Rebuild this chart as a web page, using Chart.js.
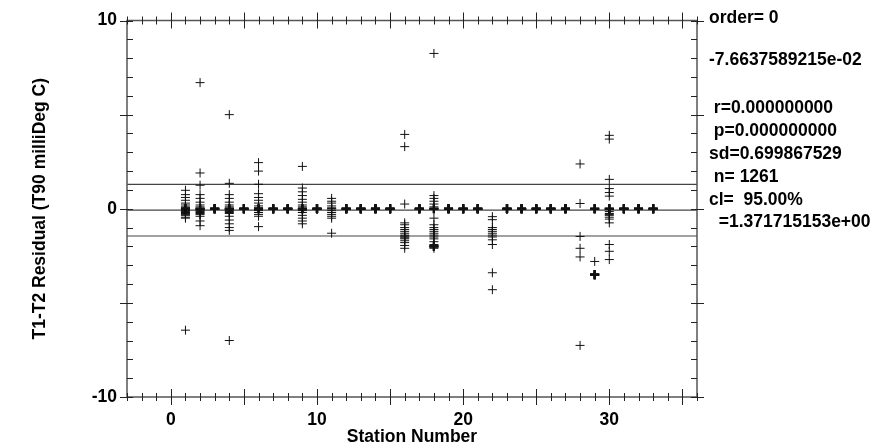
<!DOCTYPE html>
<html>
<head>
<meta charset="utf-8">
<script src="https://cdn.jsdelivr.net/npm/chart.js@4.4.0/dist/chart.umd.min.js"></script>
<style>
  html, body { margin: 0; padding: 0; background: #fff; }
  #wrap { width: 876px; height: 448px; }
</style>
</head>
<body>
<div id="wrap"><canvas id="residualChart" width="876" height="448"></canvas></div>
<script>
// Station numbers and T1-T2 residuals (milliDeg C)
const stations = [1, 2, 3, 4, 5, 6, 7, 8, 9, 10, 11, 12, 13, 14, 15, 16, 17,
    18, 19, 20, 21, 22, 23, 24, 25, 26, 27, 28, 29, 30, 31, 32, 33];
const zeros = [0, 0, 0, 0, 0, 0];
const residuals = [
    [0.98, 0.75, 0.6, 0.45, 0.3, 0.2, 0.1, 0.05, 0, 0, 0, -0.05, -0.1, -0.15, -0.2, -0.25, -0.3, -0.35, -0.45, -0.5, -6.45],
    [6.7, 1.9, 1.25, 0.75, 0.55, 0.35, 0.2, 0.1, 0, 0, 0, -0.05, -0.1, -0.15, -0.2, -0.25, -0.3, -0.4, -0.65, -0.9],
    zeros,
    [5.0, 1.35, 0.75, 0.55, 0.35, 0.2, 0.1, 0, 0, 0, -0.05, -0.1, -0.15, -0.2, -0.25, -0.4, -0.6, -0.8, -1.0, -1.15, -7.0],
    zeros,
    [2.45, 2.0, 1.3, 0.8, 0.6, 0.45, 0.3, 0.15, 0.05, 0, 0, 0, -0.1, -0.2, -0.3, -0.4, -0.95],
    zeros,
    zeros,
    [2.25, 1.1, 0.9, 0.7, 0.5, 0.35, 0.2, 0.1, 0, 0, 0, -0.1, -0.2, -0.35, -0.5, -0.65, -0.8],
    zeros,
    [0.55, 0.4, 0.3, 0.15, 0.05, 0, 0, -0.1, -0.2, -0.3, -0.4, -0.5, -1.3],
    zeros,
    zeros,
    zeros,
    zeros,
    [3.95, 3.3, 0.25, -0.75, -0.85, -1.0, -1.1, -1.2, -1.3, -1.4, -1.45, -1.5, -1.55, -1.6, -1.7, -1.8, -1.95, -2.1],
    zeros,
    [8.25, 0.7, 0.55, 0.4, 0.25, 0.1, 0, 0, 0, -0.5, -0.85, -1.0, -1.1, -1.2, -1.3, -1.4, -1.5, -1.6, -1.75, -1.9, -2.0, -2.0, -2.0, -2.1],
    zeros,
    zeros,
    zeros,
    [-0.42, -0.58, -1.0, -1.1, -1.2, -1.3, -1.4, -1.5, -1.65, -1.9, -3.4, -4.3],
    zeros,
    zeros,
    zeros,
    zeros,
    zeros,
    [2.38, 0.28, -1.47, -2.1, -2.56, -7.26],
    [0, 0, 0, 0, -2.8, -3.5, -3.5, -3.5, -3.5],
    [3.9, 3.7, 1.56, 1.07, 0.86, 0.67, 0, 0, 0, 0, -0.15, -0.25, -0.3, -0.35, -0.45, -0.55, -0.75, -1.9, -2.26, -2.7],
    zeros,
    zeros,
    zeros
];

// fit results (mean and 95% confidence limit)
const fitMean = -7.6637589215e-02;
const confLimit = 1.371715153;
const xMin = -3, xMax = 36;
const yMin = -10, yMax = 10;
const xTickLabels = [0, 10, 20, 30];
const yTickLabels = [-10, 0, 10];
const statLines = [
    'order= 0',
    '-7.6637589215e-02',
    ' r=0.000000000',
    ' p=0.000000000',
    'sd=0.699867529',
    ' n= 1261',
    'cl=  95.00%',
    '  =1.371715153e+00'
];

const points = [];
stations.forEach((s, i) => {
    residuals[i].forEach(v => points.push({ x: s, y: v }));
});
// repeated points are drawn heavier, like the original
const counts = {};
points.forEach(p => { const k = p.x + '|' + p.y; counts[k] = (counts[k] || 0) + 1; });

const fontFamily = '"Liberation Sans", Arial, Helvetica, sans-serif';
const boldFont = { family: fontFamily, size: 17.5, weight: 'bold' };

function hLine(y) {
    return {
        type: 'line',
        data: [{ x: xMin, y: y }, { x: xMax, y: y }],
        borderColor: '#444',
        borderWidth: 1.2,
        pointRadius: 0,
        order: 2
    };
}

// frame, tick marks on all four sides, and the fit summary at the right
const framePlugin = {
    id: 'frame',
    afterDraw(chart) {
        const { ctx, chartArea: a, scales: { x, y } } = chart;
        ctx.save();
        ctx.strokeStyle = '#555';
        ctx.lineWidth = 1.5;
        ctx.strokeRect(a.left, a.top, a.right - a.left, a.bottom - a.top);
        ctx.lineWidth = 1;
        ctx.strokeStyle = '#222';
        ctx.beginPath();
        for (let v = xMin; v <= xMax; v++) {
            const px = Math.round(x.getPixelForValue(v)) + 0.5;
            const len = v % 5 === 0 ? 8 : 4;
            ctx.moveTo(px, a.top - len); ctx.lineTo(px, a.top + len);
            ctx.moveTo(px, a.bottom - len); ctx.lineTo(px, a.bottom + len);
        }
        for (let v = yMin; v <= yMax; v++) {
            const py = Math.round(y.getPixelForValue(v)) + 0.5;
            const major = v % 5 === 0;
            ctx.moveTo(a.left - (major ? 7 : 0), py); ctx.lineTo(a.left + 6, py);
            ctx.moveTo(a.right - 6, py); ctx.lineTo(a.right + (major ? 7 : 0), py);
        }
        ctx.stroke();

        ctx.fillStyle = '#000';
        ctx.font = 'bold 17.5px ' + fontFamily;
        ctx.textBaseline = 'middle';
        ctx.textAlign = 'left';
        const ys = [18, 60, 108, 131, 154, 177, 200, 222];
        statLines.forEach((t, i) => ctx.fillText(t, a.right + 12, ys[i]));
        ctx.restore();
    }
};

const ctx = document.getElementById('residualChart').getContext('2d');
new Chart(ctx, {
    type: 'scatter',
    data: {
        datasets: [
            {
                data: points,
                pointStyle: 'cross',
                pointRadius: 4.5,
                borderColor: '#111',
                borderWidth: c => {
                    const p = c.raw;
                    return p && counts[p.x + '|' + p.y] >= 3 ? 2.2 : 1;
                },
                order: 1
            },
            hLine(fitMean + confLimit),
            hLine(fitMean),
            hLine(fitMean - confLimit)
        ]
    },
    options: {
        responsive: false,
        animation: false,
        layout: { padding: { left: 0, right: 179, top: 16, bottom: 0 } },
        plugins: {
            legend: { display: false },
            tooltip: { enabled: false }
        },
        scales: {
            x: {
                type: 'linear',
                min: xMin,
                max: xMax,
                grid: { display: false, drawTicks: false },
                border: { display: false },
                afterBuildTicks: s => { s.ticks = xTickLabels.map(v => ({ value: v })); },
                afterFit: s => { s.height = 51; },
                ticks: { font: boldFont, color: '#000', padding: 13, maxRotation: 0 },
                title: {
                    display: true,
                    text: 'Station Number',
                    font: boldFont,
                    color: '#000',
                    padding: { top: 0, bottom: 0 }
                }
            },
            y: {
                type: 'linear',
                min: yMin,
                max: yMax,
                grid: { display: false, drawTicks: false },
                border: { display: false },
                afterBuildTicks: s => { s.ticks = yTickLabels.map(v => ({ value: v })); },
                afterFit: s => { s.width = 127; },
                ticks: { font: boldFont, color: '#000', padding: 10 },
                title: {
                    display: true,
                    text: 'T1-T2 Residual (T90 milliDeg C)',
                    font: boldFont,
                    color: '#000',
                    padding: { top: 30, bottom: 0 }
                }
            }
        }
    },
    plugins: [framePlugin]
});
</script>
</body>
</html>
